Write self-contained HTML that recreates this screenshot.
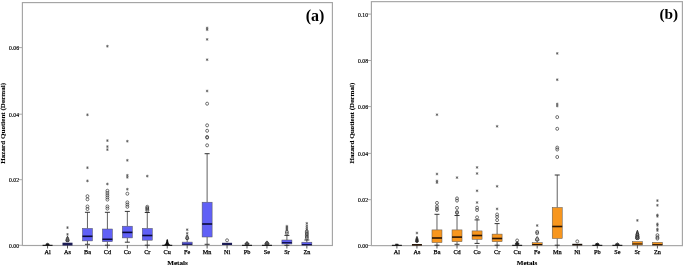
<!DOCTYPE html>
<html><head><meta charset="utf-8"><style>
html,body{margin:0;padding:0;background:#fff;}
body{width:685px;height:266px;overflow:hidden;}
svg{display:block;will-change:transform;}
.tk{font-family:"Liberation Serif", serif;font-size:6.6px;fill:#000;stroke:#000;stroke-width:0.2px;}
.xl{font-family:"Liberation Serif", serif;font-size:6.2px;fill:#000;stroke:#000;stroke-width:0.25px;}
.tt{font-family:"Liberation Serif", serif;font-size:7.1px;font-weight:bold;fill:#000;stroke:#000;stroke-width:0.12px;}
.pl{font-family:"Liberation Serif", serif;font-size:16px;font-weight:bold;fill:#000;}
</style></head><body>
<svg width="685" height="266" viewBox="0 0 685 266">
<rect width="685" height="266" fill="#fff"/>
<rect x="22.4" y="2.6" width="310" height="242.9" fill="none" stroke="#a4a4a4" stroke-width="1.15"/>
<line x1="19" y1="245.3" x2="22.5" y2="245.3" stroke="#aaa" stroke-width="1"/>
<text transform="translate(19,247.9) scale(0.86,1)" text-anchor="end" class="tk">0.00</text>
<line x1="19" y1="179.7" x2="22.5" y2="179.7" stroke="#aaa" stroke-width="1"/>
<text transform="translate(19,182.3) scale(0.86,1)" text-anchor="end" class="tk">0.02</text>
<line x1="19" y1="114.2" x2="22.5" y2="114.2" stroke="#aaa" stroke-width="1"/>
<text transform="translate(19,116.8) scale(0.86,1)" text-anchor="end" class="tk">0.04</text>
<line x1="19" y1="47.6" x2="22.5" y2="47.6" stroke="#aaa" stroke-width="1"/>
<text transform="translate(19,50.2) scale(0.86,1)" text-anchor="end" class="tk">0.06</text>
<text transform="translate(5.4,123.3) rotate(-90)" text-anchor="middle" class="tt">Hazard Quotient (Dermal)</text>
<text x="177.5" y="264.7" text-anchor="middle" class="tt">Metals</text>
<text x="324.4" y="20.6" text-anchor="end" class="pl" style="font-size:16px">(a)</text>
<line x1="47.56" y1="245" x2="47.56" y2="248.5" stroke="#444" stroke-width="0.9"/>
<text x="47.56" y="254.4" text-anchor="middle" class="xl">Al</text>
<rect x="42.56" y="244.8" width="10" height="1.1" fill="#111"/><path d="M47.56 243.3 C48.36 244.3 49.16 243.2 49.16 244.4 Q49.16 245.2 47.56 245.2 Q45.96 245.2 45.96 244.4 C45.96 243.2 46.76 244.3 47.56 243.3 Z" fill="#111" stroke="#1a1a1a" stroke-width="0.8"/>
<line x1="67.5" y1="245" x2="67.5" y2="248.5" stroke="#444" stroke-width="0.9"/>
<text x="67.5" y="254.4" text-anchor="middle" class="xl">As</text>
<rect x="62.5" y="242.7" width="10" height="2.8" fill="#1c1c55"/><path d="M67.5 236.3 C68.33 237.3 69.16 239.7 69.16 240.9 Q69.16 241.7 67.5 241.7 Q65.85 241.7 65.85 240.9 C65.85 239.7 66.68 237.3 67.5 236.3 Z" fill="#666" stroke="#1a1a1a" stroke-width="0.8"/><g stroke="#444" stroke-width="0.6"><line x1="67.5" y1="233" x2="67.5" y2="235.8"/><line x1="68.72" y1="233.7" x2="66.29" y2="235.1"/><line x1="68.72" y1="235.1" x2="66.29" y2="233.7"/><line x1="67.5" y1="226.2" x2="67.5" y2="229"/><line x1="68.72" y1="226.9" x2="66.29" y2="228.3"/><line x1="68.72" y1="228.3" x2="66.29" y2="226.9"/></g>
<line x1="87.45" y1="245" x2="87.45" y2="248.5" stroke="#444" stroke-width="0.9"/>
<text x="87.45" y="254.4" text-anchor="middle" class="xl">Ba</text>
<line x1="87.45" y1="212.3" x2="87.45" y2="228.4" stroke="#383838" stroke-width="0.8"/><line x1="84.95" y1="212.3" x2="89.95" y2="212.3" stroke="#333" stroke-width="1"/><line x1="87.45" y1="240.9" x2="87.45" y2="244.3" stroke="#383838" stroke-width="0.8"/><line x1="84.95" y1="244.3" x2="89.95" y2="244.3" stroke="#333" stroke-width="1"/><rect x="82.45" y="228.4" width="10" height="12.5" fill="#6060f6" stroke="#555" stroke-width="0.5"/><line x1="82.45" y1="236.3" x2="92.45" y2="236.3" stroke="#0a0a3a" stroke-width="1.6"/><g stroke="#444" stroke-width="0.6"><line x1="87.45" y1="179.5" x2="87.45" y2="182.3"/><line x1="88.66" y1="180.2" x2="86.24" y2="181.6"/><line x1="88.66" y1="181.6" x2="86.24" y2="180.2"/><line x1="87.45" y1="166.3" x2="87.45" y2="169.1"/><line x1="88.66" y1="167" x2="86.24" y2="168.4"/><line x1="88.66" y1="168.4" x2="86.24" y2="167"/><line x1="87.45" y1="113.4" x2="87.45" y2="116.2"/><line x1="88.66" y1="114.1" x2="86.24" y2="115.5"/><line x1="88.66" y1="115.5" x2="86.24" y2="114.1"/></g><g fill="none" stroke="#2a2a2a" stroke-width="0.65"><ellipse cx="87.45" cy="209" rx="1.45" ry="1.55"/><ellipse cx="87.45" cy="206.5" rx="1.45" ry="1.55"/><ellipse cx="87.45" cy="199.3" rx="1.45" ry="1.55"/><ellipse cx="87.45" cy="196.2" rx="1.45" ry="1.55"/></g>
<line x1="107.4" y1="245" x2="107.4" y2="248.5" stroke="#444" stroke-width="0.9"/>
<text x="107.4" y="254.4" text-anchor="middle" class="xl">Cd</text>
<line x1="107.4" y1="212.3" x2="107.4" y2="229" stroke="#383838" stroke-width="0.8"/><line x1="104.9" y1="212.3" x2="109.9" y2="212.3" stroke="#333" stroke-width="1"/><line x1="107.4" y1="241.7" x2="107.4" y2="245.2" stroke="#383838" stroke-width="0.8"/><line x1="104.9" y1="245.2" x2="109.9" y2="245.2" stroke="#333" stroke-width="1"/><rect x="102.4" y="229" width="10" height="12.7" fill="#6060f6" stroke="#555" stroke-width="0.5"/><line x1="102.4" y1="239.3" x2="112.4" y2="239.3" stroke="#0a0a3a" stroke-width="1.6"/><g stroke="#444" stroke-width="0.6"><line x1="107.4" y1="182.6" x2="107.4" y2="185.4"/><line x1="108.61" y1="183.3" x2="106.18" y2="184.7"/><line x1="108.61" y1="184.7" x2="106.18" y2="183.3"/><line x1="107.4" y1="148.2" x2="107.4" y2="151"/><line x1="108.61" y1="148.9" x2="106.18" y2="150.3"/><line x1="108.61" y1="150.3" x2="106.18" y2="148.9"/><line x1="107.4" y1="145.2" x2="107.4" y2="148"/><line x1="108.61" y1="145.9" x2="106.18" y2="147.3"/><line x1="108.61" y1="147.3" x2="106.18" y2="145.9"/><line x1="107.4" y1="139.2" x2="107.4" y2="142"/><line x1="108.61" y1="139.9" x2="106.18" y2="141.3"/><line x1="108.61" y1="141.3" x2="106.18" y2="139.9"/><line x1="107.4" y1="44.8" x2="107.4" y2="47.6"/><line x1="108.61" y1="45.5" x2="106.18" y2="46.9"/><line x1="108.61" y1="46.9" x2="106.18" y2="45.5"/></g><g fill="none" stroke="#2a2a2a" stroke-width="0.65"><ellipse cx="107.4" cy="208.6" rx="1.45" ry="1.55"/><ellipse cx="107.4" cy="206.5" rx="1.45" ry="1.55"/><ellipse cx="107.4" cy="199.6" rx="1.45" ry="1.55"/><ellipse cx="107.4" cy="197.4" rx="1.45" ry="1.55"/><ellipse cx="107.4" cy="195.2" rx="1.45" ry="1.55"/><ellipse cx="107.4" cy="193" rx="1.45" ry="1.55"/><ellipse cx="107.4" cy="190.8" rx="1.45" ry="1.55"/></g>
<line x1="127.34" y1="245" x2="127.34" y2="248.5" stroke="#444" stroke-width="0.9"/>
<text x="127.34" y="254.4" text-anchor="middle" class="xl">Co</text>
<line x1="127.34" y1="211.4" x2="127.34" y2="226.2" stroke="#383838" stroke-width="0.8"/><line x1="124.84" y1="211.4" x2="129.84" y2="211.4" stroke="#333" stroke-width="1"/><line x1="127.34" y1="237.9" x2="127.34" y2="242.2" stroke="#383838" stroke-width="0.8"/><line x1="124.84" y1="242.2" x2="129.84" y2="242.2" stroke="#333" stroke-width="1"/><rect x="122.34" y="226.2" width="10" height="11.7" fill="#6060f6" stroke="#555" stroke-width="0.5"/><line x1="122.34" y1="232.4" x2="132.34" y2="232.4" stroke="#0a0a3a" stroke-width="1.6"/><g stroke="#444" stroke-width="0.6"><line x1="127.34" y1="187.8" x2="127.34" y2="190.6"/><line x1="128.55" y1="188.5" x2="126.13" y2="189.9"/><line x1="128.55" y1="189.9" x2="126.13" y2="188.5"/><line x1="127.34" y1="175.9" x2="127.34" y2="178.7"/><line x1="128.55" y1="176.6" x2="126.13" y2="178"/><line x1="128.55" y1="178" x2="126.13" y2="176.6"/><line x1="127.34" y1="173.9" x2="127.34" y2="176.7"/><line x1="128.55" y1="174.6" x2="126.13" y2="176"/><line x1="128.55" y1="176" x2="126.13" y2="174.6"/><line x1="127.34" y1="158.9" x2="127.34" y2="161.7"/><line x1="128.55" y1="159.6" x2="126.13" y2="161"/><line x1="128.55" y1="161" x2="126.13" y2="159.6"/><line x1="127.34" y1="139.8" x2="127.34" y2="142.6"/><line x1="128.55" y1="140.5" x2="126.13" y2="141.9"/><line x1="128.55" y1="141.9" x2="126.13" y2="140.5"/></g><g fill="none" stroke="#2a2a2a" stroke-width="0.65"><ellipse cx="127.34" cy="206.8" rx="1.45" ry="1.55"/><ellipse cx="127.34" cy="204.6" rx="1.45" ry="1.55"/><ellipse cx="127.34" cy="202.4" rx="1.45" ry="1.55"/><ellipse cx="127.34" cy="193.7" rx="1.45" ry="1.55"/></g>
<line x1="147.28" y1="245" x2="147.28" y2="248.5" stroke="#444" stroke-width="0.9"/>
<text x="147.28" y="254.4" text-anchor="middle" class="xl">Cr</text>
<line x1="147.28" y1="212.5" x2="147.28" y2="228.4" stroke="#383838" stroke-width="0.8"/><line x1="144.78" y1="212.5" x2="149.78" y2="212.5" stroke="#333" stroke-width="1"/><line x1="147.28" y1="240.2" x2="147.28" y2="245.2" stroke="#383838" stroke-width="0.8"/><line x1="144.78" y1="245.2" x2="149.78" y2="245.2" stroke="#333" stroke-width="1"/><rect x="142.28" y="228.4" width="10" height="11.8" fill="#6060f6" stroke="#555" stroke-width="0.5"/><line x1="142.28" y1="235.5" x2="152.28" y2="235.5" stroke="#0a0a3a" stroke-width="1.6"/><g stroke="#444" stroke-width="0.6"><line x1="147.28" y1="174.7" x2="147.28" y2="177.5"/><line x1="148.5" y1="175.4" x2="146.07" y2="176.8"/><line x1="148.5" y1="176.8" x2="146.07" y2="175.4"/></g><g fill="none" stroke="#2a2a2a" stroke-width="0.65"><ellipse cx="147.28" cy="210.5" rx="1.45" ry="1.55"/><ellipse cx="147.28" cy="209.2" rx="1.45" ry="1.55"/><ellipse cx="147.28" cy="208" rx="1.45" ry="1.55"/><ellipse cx="147.28" cy="206.8" rx="1.45" ry="1.55"/></g>
<line x1="167.23" y1="245" x2="167.23" y2="248.5" stroke="#444" stroke-width="0.9"/>
<text x="167.23" y="254.4" text-anchor="middle" class="xl">Cu</text>
<rect x="162.23" y="244.8" width="10" height="1.1" fill="#111"/><path d="M164.03 245 Q166.23 244 166.43 240.1 L167.23 239.1 L168.03 240.1 Q168.23 244 170.43 245 Z" fill="#111"/>
<line x1="187.18" y1="245" x2="187.18" y2="248.5" stroke="#444" stroke-width="0.9"/>
<text x="187.18" y="254.4" text-anchor="middle" class="xl">Fe</text>
<line x1="187.18" y1="239.5" x2="187.18" y2="242.1" stroke="#383838" stroke-width="0.8"/><rect x="182.18" y="242.1" width="10" height="2.8" fill="#6060f6" stroke="#555" stroke-width="0.5"/><line x1="182.18" y1="244.2" x2="192.18" y2="244.2" stroke="#0a0a3a" stroke-width="1.0"/><path d="M187.18 234.8 C187.93 235.8 188.68 237.6 188.68 238.8 Q188.68 239.6 187.18 239.6 Q185.68 239.6 185.68 238.8 C185.68 237.6 186.43 235.8 187.18 234.8 Z" fill="#888" stroke="#1a1a1a" stroke-width="0.8"/><g stroke="#444" stroke-width="0.6"><line x1="187.18" y1="228.3" x2="187.18" y2="231.1"/><line x1="188.39" y1="229" x2="185.96" y2="230.4"/><line x1="188.39" y1="230.4" x2="185.96" y2="229"/><line x1="187.18" y1="231.9" x2="187.18" y2="234.7"/><line x1="188.39" y1="232.6" x2="185.96" y2="234"/><line x1="188.39" y1="234" x2="185.96" y2="232.6"/></g>
<line x1="207.12" y1="245" x2="207.12" y2="248.5" stroke="#444" stroke-width="0.9"/>
<text x="207.12" y="254.4" text-anchor="middle" class="xl">Mn</text>
<line x1="207.12" y1="153.7" x2="207.12" y2="202.2" stroke="#383838" stroke-width="0.8"/><line x1="204.62" y1="153.7" x2="209.62" y2="153.7" stroke="#333" stroke-width="1"/><line x1="207.12" y1="237" x2="207.12" y2="244.3" stroke="#383838" stroke-width="0.8"/><line x1="204.62" y1="244.3" x2="209.62" y2="244.3" stroke="#333" stroke-width="1"/><rect x="202.12" y="202.2" width="10" height="34.8" fill="#6060f6" stroke="#555" stroke-width="0.5"/><line x1="202.12" y1="224" x2="212.12" y2="224" stroke="#0a0a3a" stroke-width="1.6"/><g stroke="#444" stroke-width="0.6"><line x1="207.12" y1="89.6" x2="207.12" y2="92.4"/><line x1="208.33" y1="90.3" x2="205.91" y2="91.7"/><line x1="208.33" y1="91.7" x2="205.91" y2="90.3"/><line x1="207.12" y1="58.3" x2="207.12" y2="61.1"/><line x1="208.33" y1="59" x2="205.91" y2="60.4"/><line x1="208.33" y1="60.4" x2="205.91" y2="59"/><line x1="207.12" y1="38" x2="207.12" y2="40.8"/><line x1="208.33" y1="38.7" x2="205.91" y2="40.1"/><line x1="208.33" y1="40.1" x2="205.91" y2="38.7"/><line x1="207.12" y1="28.3" x2="207.12" y2="31.1"/><line x1="208.33" y1="29" x2="205.91" y2="30.4"/><line x1="208.33" y1="30.4" x2="205.91" y2="29"/><line x1="207.12" y1="26.6" x2="207.12" y2="29.4"/><line x1="208.33" y1="27.3" x2="205.91" y2="28.7"/><line x1="208.33" y1="28.7" x2="205.91" y2="27.3"/></g><g fill="none" stroke="#2a2a2a" stroke-width="0.65"><ellipse cx="207.12" cy="145.3" rx="1.45" ry="1.55"/><ellipse cx="207.12" cy="137.6" rx="1.45" ry="1.55"/><ellipse cx="207.12" cy="137" rx="1.45" ry="1.55"/><ellipse cx="207.12" cy="130.8" rx="1.45" ry="1.55"/><ellipse cx="207.12" cy="125.3" rx="1.45" ry="1.55"/><ellipse cx="207.12" cy="103.7" rx="1.45" ry="1.55"/></g>
<line x1="227.06" y1="245" x2="227.06" y2="248.5" stroke="#444" stroke-width="0.9"/>
<text x="227.06" y="254.4" text-anchor="middle" class="xl">Ni</text>
<rect x="222.06" y="242.8" width="10" height="2.2" fill="#1c1c55"/><g fill="none" stroke="#2a2a2a" stroke-width="0.65"><ellipse cx="227.06" cy="240.3" rx="1.45" ry="1.55"/></g>
<line x1="247.01" y1="245" x2="247.01" y2="248.5" stroke="#444" stroke-width="0.9"/>
<text x="247.01" y="254.4" text-anchor="middle" class="xl">Pb</text>
<rect x="242.01" y="244.8" width="10" height="1.1" fill="#111"/><path d="M247.01 241.6 C248.01 242.6 249.01 243 249.01 244.2 Q249.01 245 247.01 245 Q245.01 245 245.01 244.2 C245.01 243 246.01 242.6 247.01 241.6 Z" fill="#555" stroke="#1a1a1a" stroke-width="0.8"/>
<line x1="266.96" y1="245" x2="266.96" y2="248.5" stroke="#444" stroke-width="0.9"/>
<text x="266.96" y="254.4" text-anchor="middle" class="xl">Se</text>
<rect x="261.96" y="244.8" width="10" height="1.1" fill="#111"/><path d="M266.96 240.9 C268.01 241.9 269.06 243 269.06 244.2 Q269.06 245 266.96 245 Q264.86 245 264.86 244.2 C264.86 243 265.91 241.9 266.96 240.9 Z" fill="#555" stroke="#1a1a1a" stroke-width="0.8"/>
<line x1="286.9" y1="245" x2="286.9" y2="248.5" stroke="#444" stroke-width="0.9"/>
<text x="286.9" y="254.4" text-anchor="middle" class="xl">Sr</text>
<line x1="286.9" y1="235.4" x2="286.9" y2="240" stroke="#383838" stroke-width="0.8"/><line x1="284.4" y1="235.4" x2="289.4" y2="235.4" stroke="#333" stroke-width="1"/><line x1="286.9" y1="244" x2="286.9" y2="245.3" stroke="#383838" stroke-width="0.8"/><line x1="284.4" y1="245.3" x2="289.4" y2="245.3" stroke="#333" stroke-width="1"/><rect x="281.9" y="240" width="10" height="4" fill="#6060f6" stroke="#555" stroke-width="0.5"/><line x1="281.9" y1="242.7" x2="291.9" y2="242.7" stroke="#0a0a3a" stroke-width="1.2"/><g stroke="#444" stroke-width="0.6"><line x1="286.9" y1="228.4" x2="286.9" y2="231.2"/><line x1="288.11" y1="229.1" x2="285.69" y2="230.5"/><line x1="288.11" y1="230.5" x2="285.69" y2="229.1"/><line x1="286.9" y1="227.2" x2="286.9" y2="230"/><line x1="288.11" y1="227.9" x2="285.69" y2="229.3"/><line x1="288.11" y1="229.3" x2="285.69" y2="227.9"/><line x1="286.9" y1="226" x2="286.9" y2="228.8"/><line x1="288.11" y1="226.7" x2="285.69" y2="228.1"/><line x1="288.11" y1="228.1" x2="285.69" y2="226.7"/><line x1="286.9" y1="224.8" x2="286.9" y2="227.6"/><line x1="288.11" y1="225.5" x2="285.69" y2="226.9"/><line x1="288.11" y1="226.9" x2="285.69" y2="225.5"/></g><g fill="none" stroke="#2a2a2a" stroke-width="0.65"><ellipse cx="286.9" cy="233.4" rx="1.45" ry="1.55"/><ellipse cx="286.9" cy="231.8" rx="1.45" ry="1.55"/></g>
<line x1="306.85" y1="245" x2="306.85" y2="248.5" stroke="#444" stroke-width="0.9"/>
<text x="306.85" y="254.4" text-anchor="middle" class="xl">Zn</text>
<line x1="306.85" y1="240" x2="306.85" y2="242.2" stroke="#383838" stroke-width="0.8"/><line x1="304.35" y1="240" x2="309.35" y2="240" stroke="#333" stroke-width="1"/><rect x="301.85" y="242.2" width="10" height="3.1" fill="#6060f6" stroke="#555" stroke-width="0.5"/><line x1="301.85" y1="244.6" x2="311.85" y2="244.6" stroke="#0a0a3a" stroke-width="1.0"/><g stroke="#444" stroke-width="0.6"><line x1="306.85" y1="228.2" x2="306.85" y2="231"/><line x1="308.06" y1="228.9" x2="305.63" y2="230.3"/><line x1="308.06" y1="230.3" x2="305.63" y2="228.9"/><line x1="306.85" y1="226.4" x2="306.85" y2="229.2"/><line x1="308.06" y1="227.1" x2="305.63" y2="228.5"/><line x1="308.06" y1="228.5" x2="305.63" y2="227.1"/><line x1="306.85" y1="224.4" x2="306.85" y2="227.2"/><line x1="308.06" y1="225.1" x2="305.63" y2="226.5"/><line x1="308.06" y1="226.5" x2="305.63" y2="225.1"/><line x1="306.85" y1="221.9" x2="306.85" y2="224.7"/><line x1="308.06" y1="222.6" x2="305.63" y2="224"/><line x1="308.06" y1="224" x2="305.63" y2="222.6"/></g><g fill="none" stroke="#2a2a2a" stroke-width="0.65"><ellipse cx="306.85" cy="238.3" rx="1.45" ry="1.55"/><ellipse cx="306.85" cy="236.9" rx="1.45" ry="1.55"/><ellipse cx="306.85" cy="235.5" rx="1.45" ry="1.55"/><ellipse cx="306.85" cy="234.1" rx="1.45" ry="1.55"/><ellipse cx="306.85" cy="232.7" rx="1.45" ry="1.55"/><ellipse cx="306.85" cy="231.3" rx="1.45" ry="1.55"/></g>
<rect x="371.4" y="1.65" width="311" height="244" fill="none" stroke="#a4a4a4" stroke-width="1.15"/>
<line x1="368" y1="245.5" x2="371.5" y2="245.5" stroke="#aaa" stroke-width="1"/>
<text transform="translate(368,248.1) scale(0.86,1)" text-anchor="end" class="tk">0.00</text>
<line x1="368" y1="199.7" x2="371.5" y2="199.7" stroke="#aaa" stroke-width="1"/>
<text transform="translate(368,202.3) scale(0.86,1)" text-anchor="end" class="tk">0.02</text>
<line x1="368" y1="153.4" x2="371.5" y2="153.4" stroke="#aaa" stroke-width="1"/>
<text transform="translate(368,156) scale(0.86,1)" text-anchor="end" class="tk">0.04</text>
<line x1="368" y1="106.6" x2="371.5" y2="106.6" stroke="#aaa" stroke-width="1"/>
<text transform="translate(368,109.2) scale(0.86,1)" text-anchor="end" class="tk">0.06</text>
<line x1="368" y1="60.5" x2="371.5" y2="60.5" stroke="#aaa" stroke-width="1"/>
<text transform="translate(368,63.1) scale(0.86,1)" text-anchor="end" class="tk">0.08</text>
<line x1="368" y1="14.1" x2="371.5" y2="14.1" stroke="#aaa" stroke-width="1"/>
<text transform="translate(368,16.7) scale(0.86,1)" text-anchor="end" class="tk">0.10</text>
<text transform="translate(354.2,123.1) rotate(-90)" text-anchor="middle" class="tt">Hazard Quotient (Dermal)</text>
<text x="527" y="264.7" text-anchor="middle" class="tt">Metals</text>
<text x="678.1" y="19.1" text-anchor="end" class="pl" style="font-size:15.3px">(b)</text>
<line x1="396.9" y1="245" x2="396.9" y2="248.5" stroke="#444" stroke-width="0.9"/>
<text x="396.9" y="254.4" text-anchor="middle" class="xl">Al</text>
<rect x="391.9" y="244.8" width="10" height="1.1" fill="#111"/><path d="M396.9 243.9 C397.55 244.9 398.2 243.2 398.2 244.4 Q398.2 245.2 396.9 245.2 Q395.6 245.2 395.6 244.4 C395.6 243.2 396.25 244.9 396.9 243.9 Z" fill="#111" stroke="#1a1a1a" stroke-width="0.8"/>
<line x1="416.94" y1="245" x2="416.94" y2="248.5" stroke="#444" stroke-width="0.9"/>
<text x="416.94" y="254.4" text-anchor="middle" class="xl">As</text>
<rect x="411.94" y="244" width="10" height="1.7" fill="#2b1a0c"/><path d="M416.94 236.4 C417.64 237.4 418.34 240.4 418.34 241.6 Q418.34 242.4 416.94 242.4 Q415.54 242.4 415.54 241.6 C415.54 240.4 416.24 237.4 416.94 236.4 Z" fill="#333" stroke="#1a1a1a" stroke-width="0.8"/><g stroke="#444" stroke-width="0.6"><line x1="416.94" y1="231.6" x2="416.94" y2="234.4"/><line x1="418.15" y1="232.3" x2="415.73" y2="233.7"/><line x1="418.15" y1="233.7" x2="415.73" y2="232.3"/></g>
<line x1="436.98" y1="245" x2="436.98" y2="248.5" stroke="#444" stroke-width="0.9"/>
<text x="436.98" y="254.4" text-anchor="middle" class="xl">Ba</text>
<line x1="436.98" y1="214.3" x2="436.98" y2="229.9" stroke="#383838" stroke-width="0.8"/><line x1="434.48" y1="214.3" x2="439.48" y2="214.3" stroke="#333" stroke-width="1"/><line x1="436.98" y1="242.6" x2="436.98" y2="245.2" stroke="#383838" stroke-width="0.8"/><line x1="434.48" y1="245.2" x2="439.48" y2="245.2" stroke="#333" stroke-width="1"/><rect x="431.98" y="229.9" width="10" height="12.7" fill="#f7961e" stroke="#555" stroke-width="0.5"/><line x1="431.98" y1="238" x2="441.98" y2="238" stroke="#2a1606" stroke-width="1.6"/><g stroke="#444" stroke-width="0.6"><line x1="436.98" y1="181.2" x2="436.98" y2="184"/><line x1="438.19" y1="181.9" x2="435.77" y2="183.3"/><line x1="438.19" y1="183.3" x2="435.77" y2="181.9"/><line x1="436.98" y1="179.6" x2="436.98" y2="182.4"/><line x1="438.19" y1="180.3" x2="435.77" y2="181.7"/><line x1="438.19" y1="181.7" x2="435.77" y2="180.3"/><line x1="436.98" y1="172.6" x2="436.98" y2="175.4"/><line x1="438.19" y1="173.3" x2="435.77" y2="174.7"/><line x1="438.19" y1="174.7" x2="435.77" y2="173.3"/><line x1="436.98" y1="113.3" x2="436.98" y2="116.1"/><line x1="438.19" y1="114" x2="435.77" y2="115.4"/><line x1="438.19" y1="115.4" x2="435.77" y2="114"/></g><g fill="none" stroke="#2a2a2a" stroke-width="0.65"><ellipse cx="436.98" cy="210" rx="1.45" ry="1.55"/><ellipse cx="436.98" cy="208.5" rx="1.45" ry="1.55"/><ellipse cx="436.98" cy="206.3" rx="1.45" ry="1.55"/><ellipse cx="436.98" cy="202.9" rx="1.45" ry="1.55"/></g>
<line x1="457.02" y1="245" x2="457.02" y2="248.5" stroke="#444" stroke-width="0.9"/>
<text x="457.02" y="254.4" text-anchor="middle" class="xl">Cd</text>
<line x1="457.02" y1="215.5" x2="457.02" y2="229.9" stroke="#383838" stroke-width="0.8"/><line x1="454.52" y1="215.5" x2="459.52" y2="215.5" stroke="#333" stroke-width="1"/><line x1="457.02" y1="241.7" x2="457.02" y2="244.3" stroke="#383838" stroke-width="0.8"/><line x1="454.52" y1="244.3" x2="459.52" y2="244.3" stroke="#333" stroke-width="1"/><rect x="452.02" y="229.9" width="10" height="11.8" fill="#f7961e" stroke="#555" stroke-width="0.5"/><line x1="452.02" y1="237.1" x2="462.02" y2="237.1" stroke="#2a1606" stroke-width="1.6"/><g stroke="#444" stroke-width="0.6"><line x1="457.02" y1="176.2" x2="457.02" y2="179"/><line x1="458.23" y1="176.9" x2="455.81" y2="178.3"/><line x1="458.23" y1="178.3" x2="455.81" y2="176.9"/></g><g fill="none" stroke="#2a2a2a" stroke-width="0.65"><ellipse cx="457.02" cy="213" rx="1.45" ry="1.55"/><ellipse cx="457.02" cy="212" rx="1.45" ry="1.55"/><ellipse cx="457.02" cy="207.9" rx="1.45" ry="1.55"/><ellipse cx="457.02" cy="200.6" rx="1.45" ry="1.55"/><ellipse cx="457.02" cy="198.4" rx="1.45" ry="1.55"/></g>
<line x1="477.06" y1="245" x2="477.06" y2="248.5" stroke="#444" stroke-width="0.9"/>
<text x="477.06" y="254.4" text-anchor="middle" class="xl">Co</text>
<line x1="477.06" y1="219.9" x2="477.06" y2="230.9" stroke="#383838" stroke-width="0.8"/><line x1="474.56" y1="219.9" x2="479.56" y2="219.9" stroke="#333" stroke-width="1"/><line x1="477.06" y1="239.3" x2="477.06" y2="243.4" stroke="#383838" stroke-width="0.8"/><line x1="474.56" y1="243.4" x2="479.56" y2="243.4" stroke="#333" stroke-width="1"/><rect x="472.06" y="230.9" width="10" height="8.4" fill="#f7961e" stroke="#555" stroke-width="0.5"/><line x1="472.06" y1="235.5" x2="482.06" y2="235.5" stroke="#2a1606" stroke-width="1.6"/><g stroke="#444" stroke-width="0.6"><line x1="477.06" y1="201.1" x2="477.06" y2="203.9"/><line x1="478.27" y1="201.8" x2="475.85" y2="203.2"/><line x1="478.27" y1="203.2" x2="475.85" y2="201.8"/><line x1="477.06" y1="189.4" x2="477.06" y2="192.2"/><line x1="478.27" y1="190.1" x2="475.85" y2="191.5"/><line x1="478.27" y1="191.5" x2="475.85" y2="190.1"/><line x1="477.06" y1="172.1" x2="477.06" y2="174.9"/><line x1="478.27" y1="172.8" x2="475.85" y2="174.2"/><line x1="478.27" y1="174.2" x2="475.85" y2="172.8"/><line x1="477.06" y1="166" x2="477.06" y2="168.8"/><line x1="478.27" y1="166.7" x2="475.85" y2="168.1"/><line x1="478.27" y1="168.1" x2="475.85" y2="166.7"/></g><g fill="none" stroke="#2a2a2a" stroke-width="0.65"><ellipse cx="477.06" cy="217.4" rx="1.45" ry="1.55"/><ellipse cx="477.06" cy="210" rx="1.45" ry="1.55"/><ellipse cx="477.06" cy="207.7" rx="1.45" ry="1.55"/></g>
<line x1="497.1" y1="245" x2="497.1" y2="248.5" stroke="#444" stroke-width="0.9"/>
<text x="497.1" y="254.4" text-anchor="middle" class="xl">Cr</text>
<line x1="497.1" y1="223.6" x2="497.1" y2="234.1" stroke="#383838" stroke-width="0.8"/><line x1="494.6" y1="223.6" x2="499.6" y2="223.6" stroke="#333" stroke-width="1"/><line x1="497.1" y1="241.7" x2="497.1" y2="245.2" stroke="#383838" stroke-width="0.8"/><line x1="494.6" y1="245.2" x2="499.6" y2="245.2" stroke="#333" stroke-width="1"/><rect x="492.1" y="234.1" width="10" height="7.6" fill="#f7961e" stroke="#555" stroke-width="0.5"/><line x1="492.1" y1="238.5" x2="502.1" y2="238.5" stroke="#2a1606" stroke-width="1.6"/><g stroke="#444" stroke-width="0.6"><line x1="497.1" y1="207.5" x2="497.1" y2="210.3"/><line x1="498.31" y1="208.2" x2="495.89" y2="209.6"/><line x1="498.31" y1="209.6" x2="495.89" y2="208.2"/><line x1="497.1" y1="184.9" x2="497.1" y2="187.7"/><line x1="498.31" y1="185.6" x2="495.89" y2="187"/><line x1="498.31" y1="187" x2="495.89" y2="185.6"/><line x1="497.1" y1="124.9" x2="497.1" y2="127.7"/><line x1="498.31" y1="125.6" x2="495.89" y2="127"/><line x1="498.31" y1="127" x2="495.89" y2="125.6"/></g><g fill="none" stroke="#2a2a2a" stroke-width="0.65"><ellipse cx="497.1" cy="220.1" rx="1.45" ry="1.55"/><ellipse cx="497.1" cy="216.8" rx="1.45" ry="1.55"/><ellipse cx="497.1" cy="214.5" rx="1.45" ry="1.55"/></g>
<line x1="517.14" y1="245" x2="517.14" y2="248.5" stroke="#444" stroke-width="0.9"/>
<text x="517.14" y="254.4" text-anchor="middle" class="xl">Cu</text>
<rect x="512.14" y="244.8" width="10" height="1.1" fill="#111"/><path d="M517.14 241.6 C518.04 242.6 518.94 243 518.94 244.2 Q518.94 245 517.14 245 Q515.34 245 515.34 244.2 C515.34 243 516.24 242.6 517.14 241.6 Z" fill="#222" stroke="#1a1a1a" stroke-width="0.8"/><g fill="none" stroke="#2a2a2a" stroke-width="0.65"><ellipse cx="517.14" cy="240.5" rx="1.45" ry="1.55"/></g>
<line x1="537.18" y1="245" x2="537.18" y2="248.5" stroke="#444" stroke-width="0.9"/>
<text x="537.18" y="254.4" text-anchor="middle" class="xl">Fe</text>
<line x1="537.18" y1="241" x2="537.18" y2="242.7" stroke="#383838" stroke-width="0.8"/><rect x="532.18" y="242.7" width="10" height="2.6" fill="#f7961e" stroke="#555" stroke-width="0.5"/><line x1="532.18" y1="244.5" x2="542.18" y2="244.5" stroke="#2a1606" stroke-width="1.0"/><path d="M537.18 236.6 C538.08 237.6 538.98 239 538.98 240.2 Q538.98 241 537.18 241 Q535.38 241 535.38 240.2 C535.38 239 536.28 237.6 537.18 236.6 Z" fill="#aaa" stroke="#1a1a1a" stroke-width="0.8"/><g stroke="#444" stroke-width="0.6"><line x1="537.18" y1="224.1" x2="537.18" y2="226.9"/><line x1="538.39" y1="224.8" x2="535.97" y2="226.2"/><line x1="538.39" y1="226.2" x2="535.97" y2="224.8"/></g><g fill="none" stroke="#2a2a2a" stroke-width="0.65"><ellipse cx="537.18" cy="233.2" rx="1.45" ry="1.55"/><ellipse cx="537.18" cy="231.9" rx="1.45" ry="1.55"/></g>
<line x1="557.22" y1="245" x2="557.22" y2="248.5" stroke="#444" stroke-width="0.9"/>
<text x="557.22" y="254.4" text-anchor="middle" class="xl">Mn</text>
<line x1="557.22" y1="175" x2="557.22" y2="207.5" stroke="#383838" stroke-width="0.8"/><line x1="554.72" y1="175" x2="559.72" y2="175" stroke="#333" stroke-width="1"/><line x1="557.22" y1="238.5" x2="557.22" y2="245.2" stroke="#383838" stroke-width="0.8"/><line x1="554.72" y1="245.2" x2="559.72" y2="245.2" stroke="#333" stroke-width="1"/><rect x="552.22" y="207.5" width="10" height="31" fill="#f7961e" stroke="#555" stroke-width="0.5"/><line x1="552.22" y1="226.5" x2="562.22" y2="226.5" stroke="#2a1606" stroke-width="1.6"/><g stroke="#444" stroke-width="0.6"><line x1="557.22" y1="104.6" x2="557.22" y2="107.4"/><line x1="558.43" y1="105.3" x2="556.01" y2="106.7"/><line x1="558.43" y1="106.7" x2="556.01" y2="105.3"/><line x1="557.22" y1="102.6" x2="557.22" y2="105.4"/><line x1="558.43" y1="103.3" x2="556.01" y2="104.7"/><line x1="558.43" y1="104.7" x2="556.01" y2="103.3"/><line x1="557.22" y1="78.3" x2="557.22" y2="81.1"/><line x1="558.43" y1="79" x2="556.01" y2="80.4"/><line x1="558.43" y1="80.4" x2="556.01" y2="79"/><line x1="557.22" y1="52" x2="557.22" y2="54.8"/><line x1="558.43" y1="52.7" x2="556.01" y2="54.1"/><line x1="558.43" y1="54.1" x2="556.01" y2="52.7"/></g><g fill="none" stroke="#2a2a2a" stroke-width="0.65"><ellipse cx="557.22" cy="157" rx="1.45" ry="1.55"/><ellipse cx="557.22" cy="149.5" rx="1.45" ry="1.55"/><ellipse cx="557.22" cy="147.6" rx="1.45" ry="1.55"/><ellipse cx="557.22" cy="128.8" rx="1.45" ry="1.55"/><ellipse cx="557.22" cy="117.1" rx="1.45" ry="1.55"/></g>
<line x1="577.26" y1="245" x2="577.26" y2="248.5" stroke="#444" stroke-width="0.9"/>
<text x="577.26" y="254.4" text-anchor="middle" class="xl">Ni</text>
<rect x="572.26" y="243.8" width="10" height="1.7" fill="#1a1008"/><g fill="none" stroke="#2a2a2a" stroke-width="0.65"><ellipse cx="577.26" cy="241.4" rx="1.45" ry="1.55"/></g>
<line x1="597.3" y1="245" x2="597.3" y2="248.5" stroke="#444" stroke-width="0.9"/>
<text x="597.3" y="254.4" text-anchor="middle" class="xl">Pb</text>
<rect x="592.3" y="244.8" width="10" height="1.1" fill="#111"/><path d="M597.3 243 C598.2 244 599.1 243.2 599.1 244.4 Q599.1 245.2 597.3 245.2 Q595.5 245.2 595.5 244.4 C595.5 243.2 596.4 244 597.3 243 Z" fill="#111" stroke="#1a1a1a" stroke-width="0.8"/>
<line x1="617.34" y1="245" x2="617.34" y2="248.5" stroke="#444" stroke-width="0.9"/>
<text x="617.34" y="254.4" text-anchor="middle" class="xl">Se</text>
<rect x="612.34" y="244.8" width="10" height="1.1" fill="#111"/><path d="M617.34 242.9 C618.24 243.9 619.14 243.2 619.14 244.4 Q619.14 245.2 617.34 245.2 Q615.54 245.2 615.54 244.4 C615.54 243.2 616.44 243.9 617.34 242.9 Z" fill="#333" stroke="#1a1a1a" stroke-width="0.8"/>
<line x1="637.38" y1="245" x2="637.38" y2="248.5" stroke="#444" stroke-width="0.9"/>
<text x="637.38" y="254.4" text-anchor="middle" class="xl">Sr</text>
<rect x="632.38" y="241.6" width="10" height="3.4" fill="#f7961e" stroke="#555" stroke-width="0.5"/><line x1="632.38" y1="243.9" x2="642.38" y2="243.9" stroke="#2a1606" stroke-width="1.0"/><path d="M637.38 230.3 C638.28 231.3 639.18 237.6 639.18 238.8 Q639.18 239.6 637.38 239.6 Q635.58 239.6 635.58 238.8 C635.58 237.6 636.48 231.3 637.38 230.3 Z" fill="#777" stroke="#1a1a1a" stroke-width="0.8"/><g stroke="#444" stroke-width="0.6"><line x1="637.38" y1="219" x2="637.38" y2="221.8"/><line x1="638.59" y1="219.7" x2="636.17" y2="221.1"/><line x1="638.59" y1="221.1" x2="636.17" y2="219.7"/></g><g fill="none" stroke="#2a2a2a" stroke-width="0.65"><ellipse cx="637.38" cy="236.8" rx="1.45" ry="1.55"/><ellipse cx="637.38" cy="234.6" rx="1.45" ry="1.55"/></g>
<line x1="657.42" y1="245" x2="657.42" y2="248.5" stroke="#444" stroke-width="0.9"/>
<text x="657.42" y="254.4" text-anchor="middle" class="xl">Zn</text>
<rect x="652.42" y="242.3" width="10" height="3" fill="#f7961e" stroke="#555" stroke-width="0.5"/><line x1="652.42" y1="244.6" x2="662.42" y2="244.6" stroke="#2a1606" stroke-width="1.0"/><g stroke="#444" stroke-width="0.6"><line x1="657.42" y1="229.1" x2="657.42" y2="231.9"/><line x1="658.63" y1="229.8" x2="656.21" y2="231.2"/><line x1="658.63" y1="231.2" x2="656.21" y2="229.8"/><line x1="657.42" y1="227.6" x2="657.42" y2="230.4"/><line x1="658.63" y1="228.3" x2="656.21" y2="229.7"/><line x1="658.63" y1="229.7" x2="656.21" y2="228.3"/><line x1="657.42" y1="224" x2="657.42" y2="226.8"/><line x1="658.63" y1="224.7" x2="656.21" y2="226.1"/><line x1="658.63" y1="226.1" x2="656.21" y2="224.7"/><line x1="657.42" y1="222.5" x2="657.42" y2="225.3"/><line x1="658.63" y1="223.2" x2="656.21" y2="224.6"/><line x1="658.63" y1="224.6" x2="656.21" y2="223.2"/><line x1="657.42" y1="214.9" x2="657.42" y2="217.7"/><line x1="658.63" y1="215.6" x2="656.21" y2="217"/><line x1="658.63" y1="217" x2="656.21" y2="215.6"/><line x1="657.42" y1="213.6" x2="657.42" y2="216.4"/><line x1="658.63" y1="214.3" x2="656.21" y2="215.7"/><line x1="658.63" y1="215.7" x2="656.21" y2="214.3"/><line x1="657.42" y1="203.9" x2="657.42" y2="206.7"/><line x1="658.63" y1="204.6" x2="656.21" y2="206"/><line x1="658.63" y1="206" x2="656.21" y2="204.6"/><line x1="657.42" y1="199.2" x2="657.42" y2="202"/><line x1="658.63" y1="199.9" x2="656.21" y2="201.3"/><line x1="658.63" y1="201.3" x2="656.21" y2="199.9"/></g><g fill="none" stroke="#2a2a2a" stroke-width="0.65"><ellipse cx="657.42" cy="238.6" rx="1.45" ry="1.55"/><ellipse cx="657.42" cy="237.3" rx="1.45" ry="1.55"/><ellipse cx="657.42" cy="235.2" rx="1.45" ry="1.55"/></g>
</svg>
</body></html>
